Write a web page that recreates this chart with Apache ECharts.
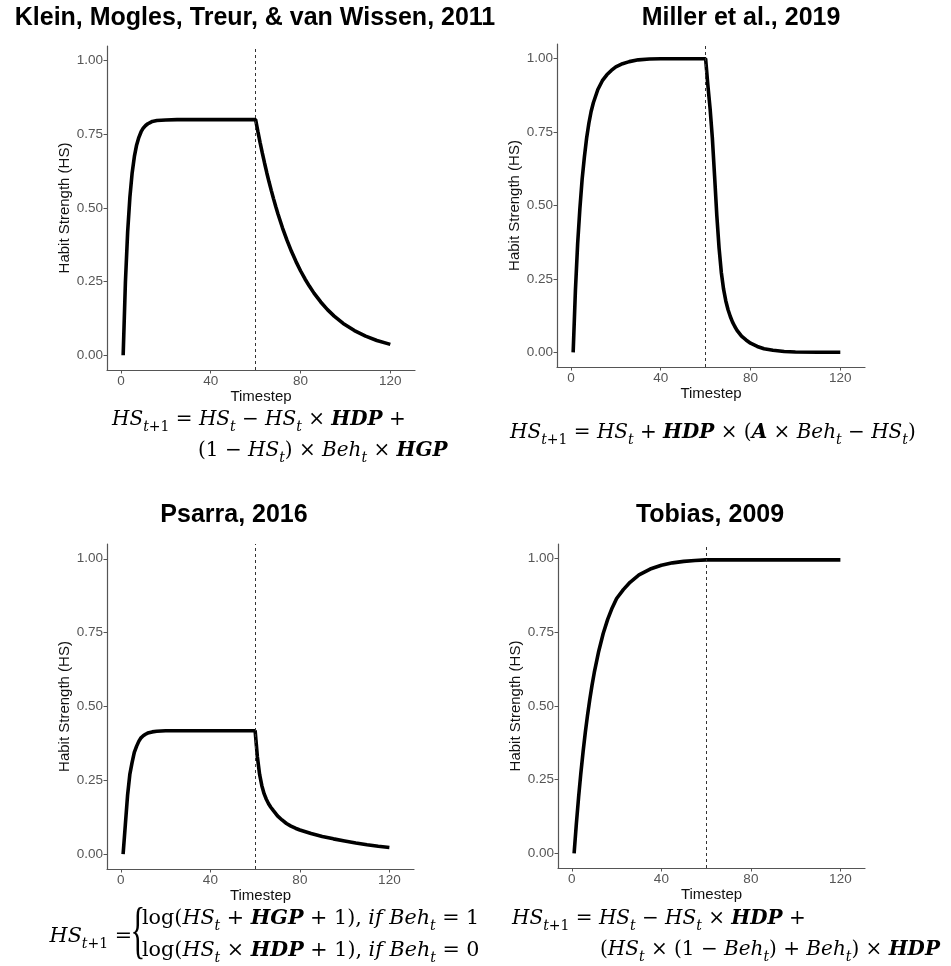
<!DOCTYPE html>
<html>
<head>
<meta charset="utf-8">
<title>Habit strength models</title>
<script src="https://cdn.jsdelivr.net/npm/echarts@6/dist/echarts.min.js"></script>
<style>
    html, body { margin: 0; padding: 0; background: #fff; }
    #main { width: 951px; height: 966px; }
</style>
</head>
<body>
<div id="main"></div>
<script>
// axis ticks
const x_ticks = [0, 40, 80, 120];
const y_ticks = [0, 0.25, 0.5, 0.75, 1];
const stop_step = 60; // dashed line: behaviour stops

// Klein, Mogles, Treur, & van Wissen, 2011
const klein_t = [1, 2, 3, 4, 5, 6, 7, 8, 9, 10, 11, 12, 13, 14, 16, 18, 20, 25, 30, 40, 50, 60,
    61, 62, 63, 64, 65, 66, 67, 68, 69, 70, 72, 74, 76, 78, 80, 82, 84, 86, 89, 92, 95, 99, 104, 109, 114, 120];
const klein_hs = [0, 0.248, 0.419, 0.537, 0.619, 0.675, 0.714, 0.740, 0.759, 0.772, 0.780, 0.786, 0.790, 0.794, 0.797, 0.798, 0.799, 0.8, 0.8, 0.8, 0.8, 0.8,
    0.760, 0.722, 0.686, 0.652, 0.619, 0.588, 0.559, 0.531, 0.504, 0.479, 0.432, 0.390, 0.352, 0.318, 0.287, 0.259, 0.234, 0.211, 0.181, 0.155, 0.133, 0.108, 0.084, 0.065, 0.050, 0.037];

// Miller et al., 2019
const miller_t = [1, 2, 3, 4, 5, 6, 7, 8, 9, 10, 12, 14, 16, 18, 20, 23, 26, 30, 35, 40, 50, 60,
    61, 62, 63, 64, 65, 66, 67, 68, 69, 70, 71, 72, 73, 74, 76, 78, 80, 83, 86, 90, 95, 100, 110, 120];
const miller_hs = [0, 0.21, 0.37, 0.49, 0.59, 0.665, 0.73, 0.78, 0.82, 0.85, 0.895, 0.925, 0.945, 0.96, 0.972, 0.983, 0.99, 0.996, 0.999, 1, 1, 1,
    0.91, 0.83, 0.73, 0.60, 0.465, 0.355, 0.272, 0.215, 0.175, 0.145, 0.122, 0.103, 0.088, 0.075, 0.055, 0.042, 0.031, 0.02, 0.012, 0.007, 0.003, 0.001, 0, 0];

// Psarra, 2016
const psarra_t = [1, 2, 3, 4, 5, 6, 7, 8, 9, 10, 11, 12, 14, 16, 20, 30, 40, 50, 60,
    61, 62, 63, 64, 65, 66, 67, 68, 70, 72, 74, 76, 78, 80, 85, 90, 95, 100, 105, 110, 115, 120];
const psarra_hs = [0, 0.10, 0.20, 0.27, 0.31, 0.345, 0.365, 0.382, 0.394, 0.401, 0.406, 0.41, 0.414, 0.416, 0.418, 0.418, 0.418, 0.418, 0.418,
    0.33, 0.27, 0.232, 0.205, 0.186, 0.171, 0.159, 0.149, 0.130, 0.116, 0.104, 0.095, 0.088, 0.082, 0.07, 0.06, 0.052, 0.045, 0.038, 0.032, 0.027, 0.023];

// Tobias, 2009
const tobias_t = [1, 2, 3, 4, 5, 6, 7, 8, 9, 10, 12, 14, 16, 18, 20, 23, 26, 30, 35, 40, 45, 50, 55, 60, 70, 80, 90, 100, 110, 120];
const tobias_hs = [0, 0.1, 0.19, 0.271, 0.344, 0.41, 0.469, 0.522, 0.57, 0.613, 0.686, 0.746, 0.794, 0.833, 0.865, 0.895, 0.92, 0.945, 0.965, 0.978, 0.986, 0.991, 0.994, 0.996,
    0.996, 0.996, 0.996, 0.996, 0.996, 0.996];

const panel_titles = ["Klein, Mogles, Treur, & van Wissen, 2011", "Miller et al., 2019", "Psarra, 2016", "Tobias, 2009"];

(function () {
    const my_echart = echarts.init(document.getElementById("main")); //one chart, four grids
    const sans = "Liberation Sans";
    const serif = "DejaVu Serif";

    const series_t = [klein_t, miller_t, psarra_t, tobias_t];
    const series_hs = [klein_hs, miller_hs, psarra_hs, tobias_hs];
    const grids = [
        { left: 107, top: 46, width: 308, height: 324 },
        { left: 557, top: 44, width: 308, height: 323 },
        { left: 107, top: 544, width: 307, height: 325 },
        { left: 558, top: 544, width: 307, height: 324 }
    ];
    const axis_grey = "#555";

    // rich styles for the model equations (size = main font size)
    function make_rich(size) {
        const sub = Math.round(size * 0.7);
        return {
            i: { fontFamily: serif, fontStyle: "italic", fontSize: size, lineHeight: 28, fill: "#000" },
            b: { fontFamily: serif, fontStyle: "italic", fontWeight: "bold", fontSize: size, lineHeight: 28, fill: "#000" },
            n: { fontFamily: serif, fontSize: size, lineHeight: 28, fill: "#000" },
            s: { fontFamily: serif, fontStyle: "italic", fontSize: sub, lineHeight: 28, padding: [14, 0, 0, 0], fill: "#000" },
            sn: { fontFamily: serif, fontSize: sub, lineHeight: 28, padding: [14, 0, 0, 0], fill: "#000" }
        };
    }
    const rich_main = make_rich(20);
    const rich_psarra = make_rich(20.7);
    const hs_next = "{i|HS}{s|t}{sn|+1}";
    const eq_decay_line = hs_next + "{n| = }{i|HS}{s|t}{n| − }{i|HS}{s|t}{n| × }{b|HDP}{n| +}";
    const equations = [
        { x: 112, y: 420, align: "left", rich: rich_main, text: eq_decay_line },
        { x: 198, y: 451, align: "left", rich: rich_main, text: "{n|(1 − }{i|HS}{s|t}{n|) × }{i|Beh}{s|t}{n| × }{b|HGP}" },
        { x: 510, y: 433, align: "left", rich: rich_main, text: hs_next + "{n| = }{i|HS}{s|t}{n| + }{b|HDP}{n| × (}{b|A}{n| × }{i|Beh}{s|t}{n| − }{i|HS}{s|t}{n|)}" },
        { x: 132, y: 937, align: "right", rich: rich_psarra, text: hs_next + "{n| =}" },
        { x: 142, y: 919, align: "left", rich: rich_psarra, text: "{n|log(}{i|HS}{s|t}{n| + }{b|HGP}{n| + 1), }{i|if Beh}{s|t}{n| = 1}" },
        { x: 142, y: 951, align: "left", rich: rich_psarra, text: "{n|log(}{i|HS}{s|t}{n| × }{b|HDP}{n| + 1), }{i|if Beh}{s|t}{n| = 0}" },
        { x: 512, y: 919, align: "left", rich: rich_main, text: eq_decay_line },
        { x: 600, y: 950, align: "left", rich: rich_main, text: "{n|(}{i|HS}{s|t}{n| × (1 − }{i|Beh}{s|t}{n|) + }{i|Beh}{s|t}{n|) × }{b|HDP}" }
    ];
    const title_pos = [[255, 18], [741, 18], [234, 515], [710, 515]];

    const graphic = [];
    panel_titles.forEach(function (name, i) {
        graphic.push({
            type: "text",
            x: title_pos[i][0],
            y: title_pos[i][1],
            style: {
                text: name, fill: "#000", fontFamily: sans, fontWeight: "bold", fontSize: 25,
                align: "center", verticalAlign: "middle", textAlign: "center", textVerticalAlign: "middle"
            }
        });
    });
    equations.forEach(function (eq) {
        graphic.push({
            type: "text",
            x: eq.x,
            y: eq.y,
            style: {
                text: eq.text, rich: eq.rich,
                align: eq.align, verticalAlign: "middle", textAlign: eq.align, textVerticalAlign: "middle"
            }
        });
    });
    graphic.push({ //big brace of the piecewise equation
        type: "text",
        x: 138,
        y: 934,
        scaleX: 0.7,
        scaleY: 1.45,
        style: {
            text: "{", fill: "#000", fontFamily: "Liberation Serif", fontSize: 44,
            align: "center", verticalAlign: "middle", textAlign: "center", textVerticalAlign: "middle"
        }
    });

    let option = {
        backgroundColor: "#fff",
        animation: false,
        grid: grids,
        xAxis: grids.map(function (g, i) {
            return {
                type: "value",
                gridIndex: i,
                min: -6.2,
                max: 131,
                name: "Timestep",
                nameLocation: "middle",
                nameGap: 17,
                nameTextStyle: { color: "#111", fontSize: 15, fontFamily: sans },
                axisLine: { onZero: false, lineStyle: { color: axis_grey, width: 1.2 } },
                axisTick: { customValues: x_ticks, length: 3.5, lineStyle: { color: axis_grey } },
                axisLabel: { customValues: x_ticks, margin: 4, color: axis_grey, fontSize: 13.5, fontFamily: sans },
                splitLine: { show: false }
            };
        }),
        yAxis: grids.map(function (g, i) {
            return {
                type: "value",
                gridIndex: i,
                min: -0.05,
                max: 1.05,
                name: "Habit Strength (HS)",
                nameLocation: "middle",
                nameGap: 30,
                nameTextStyle: { color: "#111", fontSize: 15, fontFamily: sans },
                axisLine: { show: true, onZero: false, lineStyle: { color: axis_grey, width: 1.2 } },
                axisTick: { show: true, customValues: y_ticks, length: 3.5, lineStyle: { color: axis_grey } },
                axisLabel: {
                    customValues: y_ticks, margin: 4, color: axis_grey, fontSize: 13.5, fontFamily: sans,
                    formatter: function (v) { return v.toFixed(2); }
                },
                splitLine: { show: false }
            };
        }),
        series: series_t.map(function (ts, i) {
            return {
                type: "line",
                xAxisIndex: i,
                yAxisIndex: i,
                data: ts.map(function (t, k) { return [t, series_hs[i][k]]; }),
                symbol: "none",
                lineStyle: { color: "#000", width: 3.6 },
                markLine: {
                    silent: true,
                    symbol: ["none", "none"],
                    label: { show: false },
                    lineStyle: { color: "#333", width: 1, type: [3, 3] },
                    data: [{ xAxis: stop_step }]
                }
            };
        }),
        graphic: graphic
    }; //配置项
    my_echart.setOption(option);
    window.addEventListener("resize", function () {
        my_echart.resize();
    });
})();
</script>
</body>
</html>
